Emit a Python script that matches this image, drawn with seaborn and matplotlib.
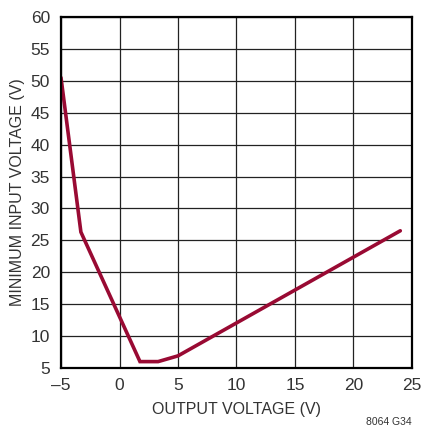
import numpy as np
import pandas as pd
import matplotlib
matplotlib.use("Agg")
import matplotlib.pyplot as plt
import seaborn as sns

# data
vout = [-5, -3.3, 1.75, 3.3, 5, 24]
vin_min = [50.5, 26.3, 6.0, 6.0, 6.9, 26.5]
x_ticks = [-5, 0, 5, 10, 15, 20, 25]
x_labels = ["\u20135", "0", "5", "10", "15", "20", "25"]
y_ticks = [5, 10, 15, 20, 25, 30, 35, 40, 45, 50, 55, 60]

df = pd.DataFrame({"vout": vout, "vin": vin_min})

sns.set_style("white")
plt.rcParams["font.family"] = ["Liberation Sans", "DejaVu Sans"]

fig = plt.figure(figsize=(4.21, 4.36), dpi=100)
ax = fig.add_axes([0.1449, 0.156, 0.8337, 0.805])

sns.lineplot(data=df, x="vout", y="vin", ax=ax, color="#990a33", linewidth=2.6,
             solid_joinstyle="miter", sort=False)

ax.set_xlim(-5, 25)
ax.set_ylim(5, 60)
ax.set_xticks(x_ticks)
ax.set_xticklabels(x_labels)
ax.set_yticks(y_ticks)
ax.grid(True, color="#222222", linewidth=0.9)
ax.set_axisbelow(True)
for s in ax.spines.values():
    s.set_color("black")
    s.set_linewidth(1.6)
ax.tick_params(axis="both", labelsize=12.5, length=0, colors="#333333")
ax.tick_params(axis="x", pad=7)
ax.tick_params(axis="y", pad=8)

ax.set_xlabel("OUTPUT VOLTAGE (V)", fontsize=11.5, color="#333333", labelpad=7)
ax.set_ylabel("MINIMUM INPUT VOLTAGE (V)", fontsize=11.5, color="#333333", labelpad=4)

fig.text(0.978, 0.032, "8064 G34", ha="right", va="center", fontsize=7.5, color="#333333")

fig.savefig("out.png", dpi=100)
